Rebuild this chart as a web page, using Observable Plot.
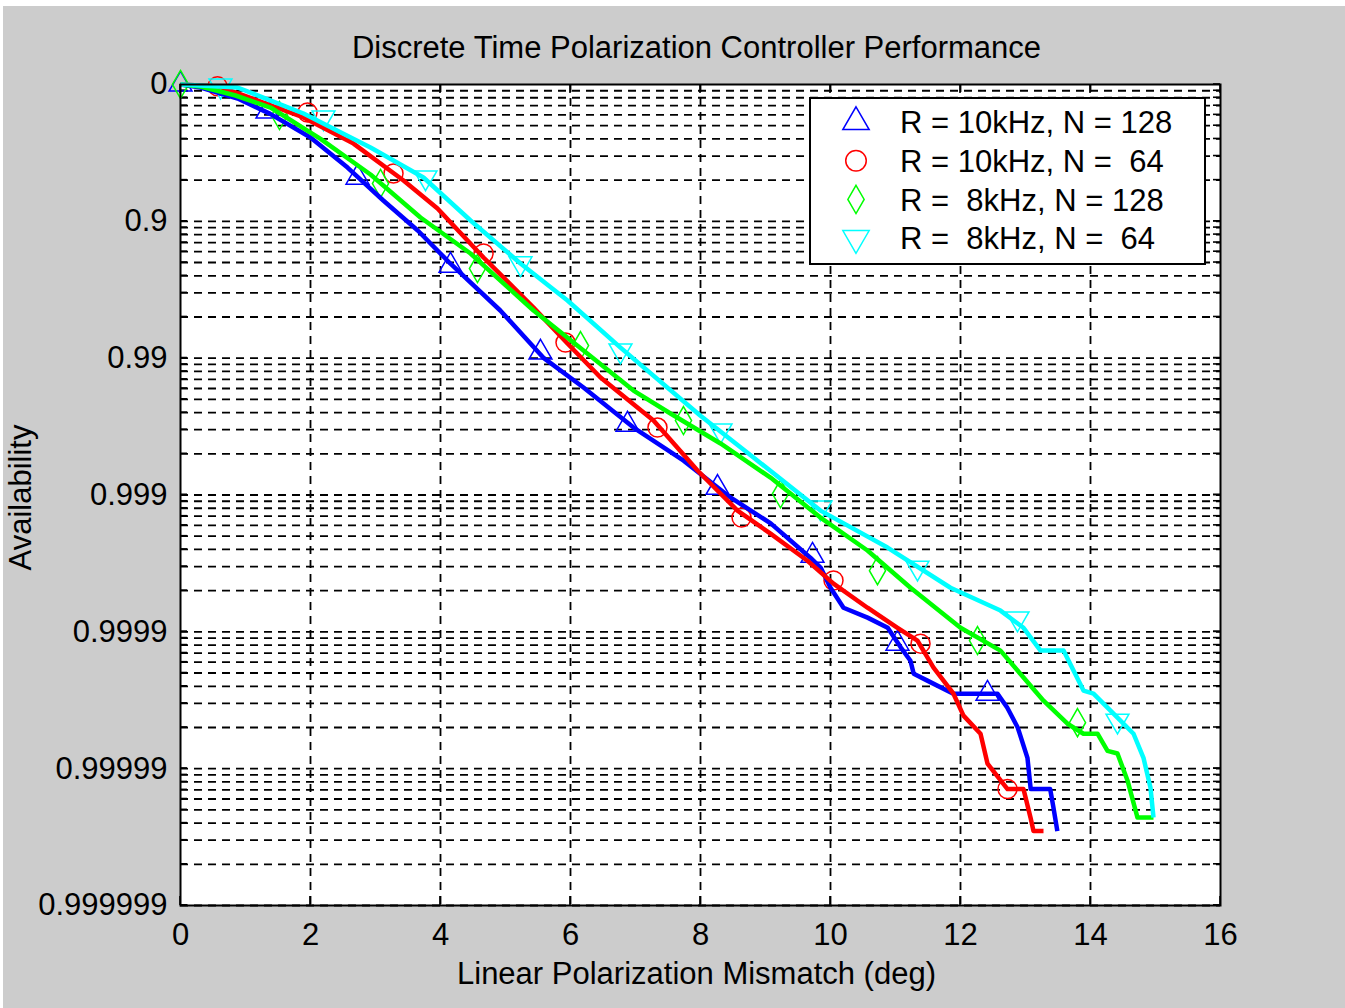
<!DOCTYPE html>
<html>
<head>
<meta charset="utf-8">
<script src="https://cdn.jsdelivr.net/npm/d3@7"></script>
<script src="https://cdn.jsdelivr.net/npm/@observablehq/plot@0.6"></script>
<style>
  html, body { margin: 0; padding: 0; background: #ffffff; }
  #chart { position: absolute; left: 3px; top: 6px; }
</style>
</head>
<body>
<div id="chart"></div>
<script>
// ---------------- DATA ----------------
const titleText = "Discrete Time Polarization Controller Performance";
const xLabelText = "Linear Polarization Mismatch (deg)";
const yLabelText = "Availability";

const xTicks = [0, 2, 4, 6, 8, 10, 12, 14, 16];
// y is plotted as unavailability (1 - availability) on a log scale
const yTickValues = [1, 1e-1, 1e-2, 1e-3, 1e-4, 1e-5, 1e-6];
const yTickLabels = ["0", "0.9", "0.99", "0.999", "0.9999", "0.99999", "0.999999"];

const seriesNames = ["R = 10kHz, N = 128", "R = 10kHz, N =  64", "R =  8kHz, N = 128", "R =  8kHz, N =  64"];

// R = 10kHz, N = 128 (blue)
const blueX = [0, 0.31, 0.88, 1.38, 2.0, 2.57, 3.12, 3.65, 4.15, 4.92, 5.58, 6.2, 6.97, 7.74, 8.46, 9.08, 9.69, 9.85, 10.0, 10.2, 10.57, 10.88, 11.08, 11.23, 11.28, 11.49, 11.89, 12.57, 12.72, 12.88, 13.03, 13.08, 13.38, 13.43, 13.49];
const blueU = [1, 0.95, 0.79, 0.61, 0.41, 0.247, 0.142, 0.0857, 0.0492, 0.0223, 0.0101, 0.0061, 0.00311, 0.00178, 9.6e-4, 6.2e-4, 3.48e-4, 2.94e-4, 2.10e-4, 1.50e-4, 1.27e-4, 1.07e-4, 7.7e-5, 6.15e-5, 4.94e-5, 4.40e-5, 3.53e-5, 3.53e-5, 2.79e-5, 2.0e-5, 1.2e-5, 7.1e-6, 7.1e-6, 5.2e-6, 3.5e-6];
const blueMarkX = [0, 1.338, 2.723, 4.154, 5.538, 6.877, 8.262, 9.723, 11.03, 12.415];
const blueMarkU = [1, 0.635, 0.209, 0.0475, 0.0110, 0.00327, 0.00113, 3.6e-4, 8.2e-5, 3.53e-5];

// R = 10kHz, N = 64 (red)
const redX = [0, 0.585, 1.077, 1.892, 2.662, 3.431, 3.954, 4.662, 5.431, 5.954, 6.462, 7.277, 7.954, 8.569, 9.077, 9.646, 10.046, 10.569, 11.031, 11.338, 11.585, 11.892, 12.046, 12.308, 12.415, 12.723, 12.969, 13.077, 13.123, 13.277];
const redU = [1, 0.967, 0.80, 0.574, 0.370, 0.199, 0.124, 0.0544, 0.0234, 0.0128, 0.00722, 0.00350, 0.00151, 7.69e-4, 5.22e-4, 3.31e-4, 2.25e-4, 1.50e-4, 1.07e-4, 8.63e-5, 5.47e-5, 3.53e-5, 2.44e-5, 1.80e-5, 1.09e-5, 7.1e-6, 7.1e-6, 4.39e-6, 3.5e-6, 3.5e-6];
const redMarkX = [0.569, 1.954, 3.277, 4.662, 5.923, 7.338, 8.631, 10.046, 11.385, 12.723];
const redMarkU = [0.97, 0.624, 0.224, 0.0582, 0.0130, 0.00311, 6.84e-4, 2.37e-4, 8.2e-5, 7.1e-6];

// R = 8kHz, N = 128 (green)
const greenX = [0, 0.308, 0.846, 1.385, 2.154, 2.923, 3.692, 4.462, 5.431, 6.2, 6.969, 7.538, 8.308, 9.077, 9.846, 10.569, 11.231, 12.0, 12.615, 13.277, 13.646, 13.892, 14.108, 14.262, 14.415, 14.569, 14.723, 14.969];
const greenU = [1, 0.967, 0.831, 0.679, 0.40, 0.22, 0.1066, 0.0582, 0.0223, 0.01137, 0.00580, 0.00394, 0.00238, 0.00134, 6.84e-4, 3.93e-4, 2.10e-4, 1.07e-4, 7.29e-5, 3.14e-5, 2.13e-5, 1.80e-5, 1.80e-5, 1.35e-5, 1.29e-5, 8.2e-6, 4.39e-6, 4.39e-6];
const greenMarkX = [0, 1.523, 3.077, 4.569, 6.154, 7.738, 9.231, 10.723, 12.262, 13.8];
const greenMarkU = [1, 0.593, 0.189, 0.0452, 0.01236, 0.0035, 0.00102, 2.80e-4, 8.63e-5, 2.17e-5];

// R = 8kHz, N = 64 (cyan)
const cyanX = [0, 0.877, 1.892, 2.923, 3.738, 4.462, 5.231, 5.954, 6.769, 8.0, 8.815, 9.846, 10.877, 11.846, 12.615, 12.969, 13.231, 13.585, 13.892, 14.046, 14.415, 14.662, 14.815, 14.923, 14.969];
const cyanU = [1, 0.951, 0.614, 0.346, 0.209, 0.1014, 0.0492, 0.0264, 0.01195, 0.00380, 0.00188, 7.69e-4, 4.13e-4, 2.10e-4, 1.43e-4, 1.07e-4, 7.29e-5, 7.29e-5, 3.72e-5, 3.53e-5, 2.36e-5, 1.80e-5, 1.20e-5, 7.26e-6, 4.39e-6];
const cyanMarkX = [0.615, 2.2, 3.769, 5.231, 6.769, 8.308, 9.846, 11.338, 12.877, 14.415];
const cyanMarkU = [0.98, 0.574, 0.209, 0.0492, 0.01137, 0.00296, 8.09e-4, 2.94e-4, 1.25e-4, 2.24e-5];

// ---------------- STYLE ----------------
const FONT = "'Liberation Sans', Arial, Helvetica, sans-serif";
const sqrt3 = Math.sqrt(3);
const triangleDown = {
  draw(context, size) {
    const y = Math.sqrt(size / (sqrt3 * 3));
    context.moveTo(0, y * 2);
    context.lineTo(-sqrt3 * y, -y);
    context.lineTo(sqrt3 * y, -y);
    context.closePath();
  }
};
const styles = [
  {color: "#0000ff", symbol: d3.symbolTriangle, r: 8.5, legendSize: 300},
  {color: "#ff0000", symbol: d3.symbolCircle, r: 9.5, legendSize: 330},
  {color: "#00ff00", symbol: d3.symbolDiamond, r: 8.5, legendSize: 230},
  {color: "#00ffff", symbol: triangleDown, r: 8.5, legendSize: 300}
];

const seriesData = [
  {x: blueX, u: blueU, mx: blueMarkX, mu: blueMarkU},
  {x: redX, u: redU, mx: redMarkX, mu: redMarkU},
  {x: greenX, u: greenU, mx: greenMarkX, mu: greenMarkU},
  {x: cyanX, u: cyanU, mx: cyanMarkX, mu: cyanMarkU}
].map((s, i) => ({
  line: s.x.map((x, j) => ({x, u: s.u[j]})),
  marks: s.mx.map((x, j) => ({x, u: s.mu[j]})),
  ...styles[i]
}));

// log-grid positions (minor decades)
const gridU = [];
for (let e = 1; e <= 6; e++) for (let k = 1; k <= 9; k++) gridU.push(k * Math.pow(10, -e));
const gridX = xTicks.filter(t => t > xTicks[0] && t < xTicks[xTicks.length - 1]);
const yLabelOf = new Map(yTickValues.map((v, i) => [v, yTickLabels[i]]));

// inward ticks on the box
function boxTicks(index, scales, values, dims) {
  const {width, height, marginLeft, marginRight, marginTop, marginBottom} = dims;
  const x0 = marginLeft, x1 = width - marginRight, y0 = marginTop, y1 = height - marginBottom;
  const g = d3.create("svg:g").attr("stroke", "black").attr("stroke-width", 1.6);
  for (const u of gridU.concat(yTickValues)) {
    const py = scales.y(u);
    g.append("line").attr("x1", x0).attr("x2", x0 + 7).attr("y1", py).attr("y2", py);
    g.append("line").attr("x1", x1).attr("x2", x1 - 7).attr("y1", py).attr("y2", py);
  }
  for (const t of xTicks) {
    const px = scales.x(t);
    g.append("line").attr("x1", px).attr("x2", px).attr("y1", y1).attr("y2", y1 - 9);
    g.append("line").attr("x1", px).attr("x2", px).attr("y1", y0).attr("y2", y0 + 9);
  }
  return g.node();
}

// rotated y-axis title, left of the tick labels
function yTitle(index, scales, values, dims) {
  const cy = (dims.marginTop + dims.height - dims.marginBottom) / 2 + 3;
  return d3.create("svg:text")
    .attr("transform", `translate(28,${cy}) rotate(-90)`)
    .attr("text-anchor", "middle")
    .attr("fill", "black").attr("font-size", 31).attr("font-family", FONT)
    .text(yLabelText).node();
}

// legend box in the upper right of the axes
function legendBox(index, scales, values, dims) {
  const right = dims.width - dims.marginRight - 15;
  const top = dims.marginTop + 14;
  const w = 395, h = 166;
  const left = right - w;
  const g = d3.create("svg:g");
  g.append("rect").attr("x", left).attr("y", top).attr("width", w).attr("height", h)
    .attr("fill", "white").attr("stroke", "black").attr("stroke-width", 2);
  seriesNames.forEach((name, i) => {
    const cy = top + 24 + 38.7 * i;
    g.append("path")
      .attr("transform", `translate(${left + 46},${cy})`)
      .attr("d", d3.symbol(styles[i].symbol, styles[i].legendSize)())
      .attr("fill", "none").attr("stroke", styles[i].color).attr("stroke-width", 1.5);
    g.append("text")
      .attr("x", left + 90).attr("y", cy).attr("dy", "0.36em")
      .attr("text-anchor", "start")
      .attr("xml:space", "preserve").style("white-space", "pre")
      .attr("fill", "black").attr("font-size", 31).attr("font-family", FONT)
      .text(name);
  });
  return g.node();
}

const marks = [
  Plot.frame({fill: "white", stroke: null}),
  Plot.ruleY(gridU, {stroke: "black", strokeWidth: 1.8, strokeDasharray: "8,6"}),
  Plot.ruleX(gridX, {stroke: "black", strokeWidth: 1.8, strokeDasharray: "8,6"}),
  boxTicks
];
// markers (plotted first, used by the legend), then the lines on top
for (const s of seriesData) {
  marks.push(Plot.dot(s.marks, {x: "x", y: "u", symbol: s.symbol, r: s.r, fill: "none", stroke: s.color, strokeWidth: 1.5}));
}
for (const s of seriesData) {
  marks.push(Plot.line(s.line, {x: "x", y: "u", stroke: s.color, strokeWidth: 4.5, strokeLinejoin: "round", strokeLinecap: "butt"}));
}
marks.push(
  Plot.frame({stroke: "black", strokeWidth: 2}),
  Plot.axisX({ticks: xTicks, tickSize: 0, tickPadding: 17, label: null, tickFormat: d => String(d)}),
  Plot.axisY({ticks: yTickValues, tickSize: 0, tickPadding: 13, label: null, tickFormat: d => yLabelOf.get(d)}),
  Plot.text([titleText], {text: d => d, frameAnchor: "top", lineAnchor: "bottom", dy: -27, dx: -4}),
  Plot.text([xLabelText], {text: d => d, frameAnchor: "bottom", lineAnchor: "bottom", dy: 78, dx: -4}),
  yTitle,
  legendBox
);

const chart = Plot.plot({
  width: 1342,
  height: 1002,
  marginLeft: 177,
  marginRight: 125,
  marginTop: 78,
  marginBottom: 103,
  style: {background: "#cccccc", color: "black", fontFamily: FONT, fontSize: "31px", display: "block"},
  x: {domain: [0, 16], label: null},
  y: {type: "log", domain: [1e-6, 1], label: null},
  marks
});
document.getElementById("chart").appendChild(chart);
</script>
</body>
</html>
